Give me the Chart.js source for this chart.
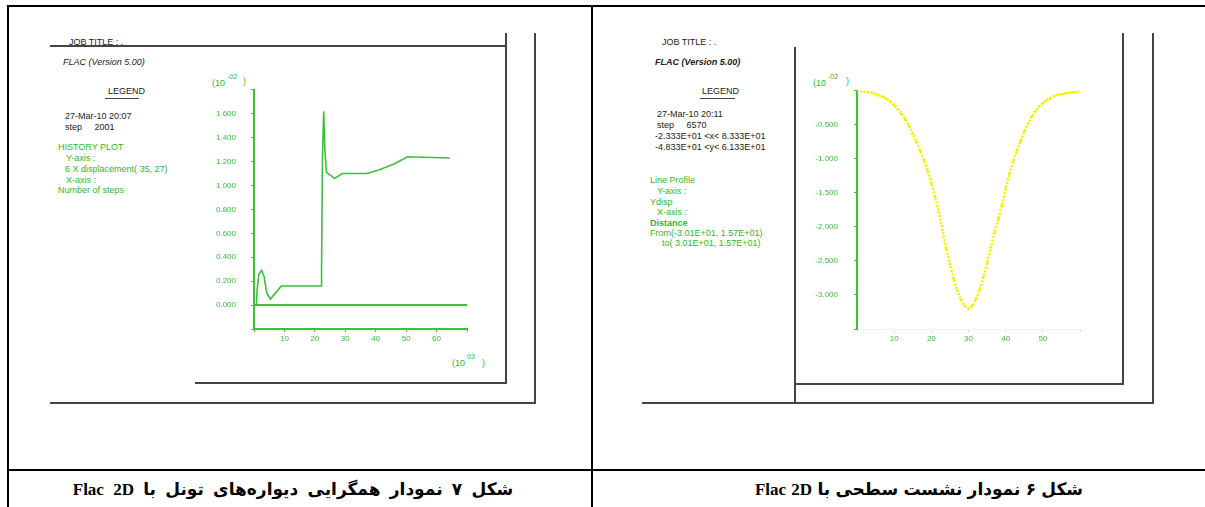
<!DOCTYPE html>
<html>
<head>
<meta charset="utf-8">
<script src="https://cdn.jsdelivr.net/npm/chart.js@4"></script>
<style>
body{margin:0;background:#fff;width:1205px;height:507px;overflow:hidden;position:relative;font-family:"Liberation Sans",Arial,sans-serif}
.ln{position:absolute;background:#000}
.gl{position:absolute;background:#444}
.t{position:absolute;font-size:9px;line-height:10px;white-space:pre;color:#222}
.g{color:#2db82d}
.i{font-style:italic}
.s{font-size:7px}
canvas{position:absolute}
.cap{position:absolute;top:479px;font:bold 17px "Liberation Serif","DejaVu Sans",serif;direction:rtl;white-space:nowrap;transform:translateX(-50%);color:#000}
</style>
</head>
<body>
<!-- table frame -->
<div class="ln" style="left:7px;top:5px;width:1198px;height:2px"></div>
<div class="ln" style="left:7px;top:5px;width:2px;height:502px"></div>
<div class="ln" style="left:591px;top:5px;width:2px;height:502px"></div>
<div class="ln" style="left:7px;top:469px;width:1198px;height:2px"></div>

<!-- left picture frame -->
<div class="gl" style="left:50px;top:45px;width:456px;height:2px"></div>
<div class="gl" style="left:505px;top:33px;width:2px;height:351px"></div>
<div class="gl" style="left:534px;top:33px;width:2px;height:371px"></div>
<div class="gl" style="left:195px;top:382px;width:311px;height:2px"></div>
<div class="gl" style="left:50px;top:402px;width:486px;height:2px"></div>

<!-- right picture frame -->
<div class="gl" style="left:794px;top:47px;width:2px;height:357px"></div>
<div class="gl" style="left:794px;top:383px;width:330px;height:2px"></div>
<div class="gl" style="left:642px;top:402px;width:512px;height:2px"></div>
<div class="gl" style="left:1122px;top:33px;width:2px;height:351px"></div>
<div class="gl" style="left:1152px;top:33px;width:2px;height:371px"></div>

<!-- left legend -->
<div class="t" style="left:69px;top:37px">JOB TITLE : .</div>
<div class="t i" style="left:63px;top:57px">FLAC (Version 5.00)</div>
<div class="t" style="left:108px;top:86px">LEGEND</div>
<div class="gl" style="left:105px;top:98px;width:34px;height:1px"></div>
<div class="t" style="left:65px;top:111px">27-Mar-10 20:07</div>
<div class="t" style="left:65px;top:122px">step     2001</div>
<div class="t g" style="left:58px;top:142px">HISTORY PLOT</div>
<div class="t g" style="left:66px;top:153px">Y-axis :</div>
<div class="t g" style="left:65px;top:164px">6 X displacement( 35, 27)</div>
<div class="t g" style="left:66px;top:175px">X-axis :</div>
<div class="t g" style="left:58px;top:185px">Number of steps</div>

<!-- right legend -->
<div class="t" style="left:662px;top:37px">JOB TITLE : .</div>
<div class="t i" style="left:655px;top:57px;font-weight:bold">FLAC (Version 5.00)</div>
<div class="t" style="left:702px;top:86px">LEGEND</div>
<div class="gl" style="left:700px;top:98px;width:35px;height:1px"></div>
<div class="t" style="left:657px;top:109px">27-Mar-10 20:11</div>
<div class="t" style="left:657px;top:120px">step     6570</div>
<div class="t" style="left:655px;top:131px">-2.333E+01 &lt;x&lt; 8.333E+01</div>
<div class="t" style="left:655px;top:142px">-4.833E+01 &lt;y&lt; 6.133E+01</div>
<div class="t g" style="left:650px;top:175px">Line Profile</div>
<div class="t g" style="left:657px;top:186px">Y-axis :</div>
<div class="t g" style="left:650px;top:197px">Ydisp</div>
<div class="t g" style="left:657px;top:207px">X-axis :</div>
<div class="t g" style="left:650px;top:218px;font-weight:bold">Distance</div>
<div class="t g" style="left:650px;top:228px">From(-3.01E+01, 1.57E+01)</div>
<div class="t g" style="left:662px;top:238px">to( 3.01E+01, 1.57E+01)</div>

<!-- axis multipliers -->
<div class="t g" style="left:212px;top:78px">(10</div>
<div class="t g s" style="left:227px;top:72px">-02</div>
<div class="t g" style="left:243px;top:76px">)</div>
<div class="t g" style="left:452px;top:358px">(10</div>
<div class="t g s" style="left:467px;top:352px">03</div>
<div class="t g" style="left:482px;top:358px">)</div>
<div class="t g" style="left:813px;top:78px">(10</div>
<div class="t g s" style="left:828px;top:72px">-02</div>
<div class="t g" style="left:846px;top:76px">)</div>

<canvas id="convChart" width="290" height="310" style="left:200px;top:70px;width:290px;height:310px"></canvas>
<canvas id="settChart" width="300" height="310" style="left:800px;top:70px;width:300px;height:310px"></canvas>

<div class="cap" style="left:293px;word-spacing:5px">شکل ۷ نمودار همگرایی دیواره‌های تونل با Flac 2D</div>
<div class="cap" style="left:919px;word-spacing:1px">شکل ۶ نمودار نشست سطحی با Flac 2D</div>

<script>
// ----- شکل ۷: همگرایی (history plot) -----
const convSteps = [0, 0.8, 1.0, 1.6, 2.5, 3.3, 4.2, 5.4, 7, 9, 22.2, 22.2, 22.5, 22.9, 23.3, 23.8, 26.5, 29, 37, 41, 46, 50.5, 64.3];
const convDisp  = [0, 0.0, 0.12, 0.26, 0.29, 0.24, 0.10, 0.05, 0.10, 0.16, 0.16, 0.31, 1.22, 1.62, 1.30, 1.11, 1.06, 1.10, 1.10, 1.13, 1.18, 1.24, 1.23];
const refLineX = [0, 70];
const refLineY = [0, 0];
const convXTicks = [10, 20, 30, 40, 50, 60];

// ----- شکل ۶: نشست سطحی (line profile) -----
const profDist = [0,1,2,3,4,5,6,7,8,9,10,11,12,13,14,15,16,17,18,19,20,21,22,23,24,25,26,27,28,29,30,
  31,32,33,34,35,36,37,38,39,40,41,42,43,44,45,46,47,48,49,50,51,52,53,54,55,56,57,58,59,60];
const profYdisp = [0,0,-0.01,-0.02,-0.03,-0.05,-0.07,-0.09,-0.12,-0.16,-0.21,-0.27,-0.34,-0.42,-0.52,-0.63,
  -0.75,-0.88,-1.02,-1.18,-1.36,-1.56,-1.78,-2.05,-2.32,-2.55,-2.76,-2.94,-3.07,-3.16,-3.20,
  -3.16,-3.06,-2.92,-2.74,-2.53,-2.30,-2.08,-1.88,-1.68,-1.44,-1.22,-1.04,-0.88,-0.74,-0.60,
  -0.48,-0.38,-0.30,-0.23,-0.18,-0.14,-0.11,-0.08,-0.06,-0.05,-0.04,-0.03,-0.02,-0.01,0];
const profXTicks = [10, 20, 30, 40, 50];

const green = "#3cc03c";
const tickFont = { family: "Liberation Sans", size: 8 };
const near = (a, b) => Math.abs(a - b) < 1e-6;

new Chart(document.getElementById("convChart"), {
  type: "scatter",
  data: {
    datasets: [
      {
        data: convSteps.map((x, i) => ({ x, y: convDisp[i] })),
        showLine: true, borderColor: green, borderWidth: 1.6,
        pointRadius: 0, tension: 0
      },
      {
        data: refLineX.map((x, i) => ({ x, y: refLineY[i] })),
        showLine: true, borderColor: green, borderWidth: 2,
        pointRadius: 0
      }
    ]
  },
  options: {
    responsive: false, animation: false,
    layout: { padding: { top: 17, right: 23, left: 0, bottom: 0 } },
    plugins: { legend: { display: false }, tooltip: { enabled: false } },
    scales: {
      x: {
        type: "linear", min: 0, max: 70,
        afterFit: s => { s.height = 51; },
        border: { display: true, color: green, width: 2 },
        grid: { drawOnChartArea: false, drawTicks: true, tickLength: 3, color: green },
        ticks: {
          stepSize: 10, autoSkip: false, maxRotation: 0, padding: 2,
          color: green, font: tickFont,
          callback: v => convXTicks.includes(v) ? String(v) : ""
        }
      },
      y: {
        min: -0.2, max: 1.8,
        afterFit: s => { s.width = 54; },
        border: { display: true, color: green, width: 2 },
        grid: { drawOnChartArea: false, drawTicks: true, tickLength: 3, color: green },
        ticks: {
          stepSize: 0.2, autoSkip: false, padding: 15,
          color: green, font: tickFont,
          callback: v => (near(v, -0.2) || near(v, 1.8)) ? "" : Math.abs(v).toFixed(3)
        }
      }
    }
  }
});

new Chart(document.getElementById("settChart"), {
  type: "scatter",
  data: {
    datasets: [{
      data: profDist.map((x, i) => ({ x, y: profYdisp[i] })),
      showLine: true, borderColor: "#f2f200", borderWidth: 2.5, borderDash: [2, 1.5],
      pointRadius: 1.3, pointBackgroundColor: "#f2f200", pointBorderWidth: 0,
      tension: 0.3
    }]
  },
  options: {
    responsive: false, animation: false,
    layout: { padding: { top: 18, right: 20, left: 0, bottom: 0 } },
    plugins: { legend: { display: false }, tooltip: { enabled: false } },
    scales: {
      x: {
        type: "linear", min: 0, max: 60,
        afterFit: s => { s.height = 51; },
        border: { display: true, color: "rgba(0,0,0,0.05)", width: 1 },
        grid: { drawOnChartArea: false, drawTicks: true, tickLength: 3, color: "rgba(60,192,60,0.35)" },
        ticks: {
          stepSize: 10, autoSkip: false, maxRotation: 0, padding: 2,
          color: green, font: tickFont,
          callback: v => profXTicks.includes(v) ? String(v) : ""
        }
      },
      y: {
        min: -3.5, max: 0,
        afterFit: s => { s.width = 57; },
        border: { display: true, color: green, width: 2 },
        grid: { drawOnChartArea: false, drawTicks: true, tickLength: 3, color: green },
        ticks: {
          stepSize: 0.5, autoSkip: false, padding: 16,
          color: green, font: tickFont,
          callback: v => (near(v, 0) || near(v, -3.5)) ? "" : v.toFixed(3)
        }
      }
    }
  }
});
</script>
</body>
</html>
